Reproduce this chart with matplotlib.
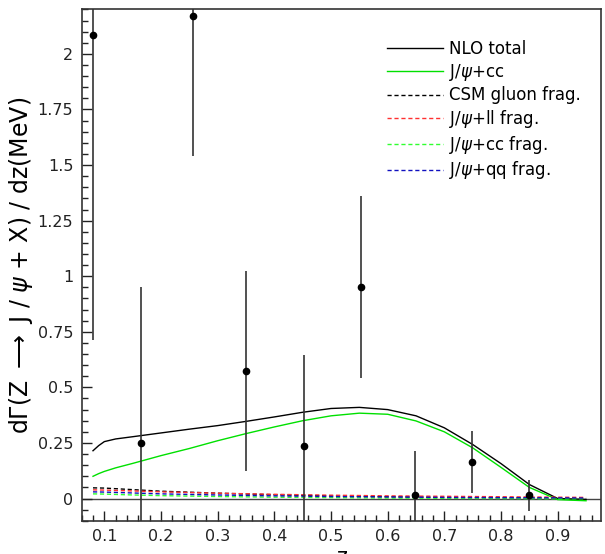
import matplotlib
matplotlib.use('Agg')
import matplotlib.pyplot as plt
from matplotlib.ticker import MultipleLocator, FixedLocator

# measured points
z_data = [0.08, 0.165, 0.257, 0.35, 0.452, 0.553, 0.648, 0.748, 0.849]
y_data = [2.085, 0.252, 2.172, 0.575, 0.236, 0.95, 0.015, 0.165, 0.015]
y_err = [1.37, 0.70, 0.63, 0.45, 0.41, 0.41, 0.20, 0.14, 0.07]

# NLO curves
z_curve = [0.08, 0.09, 0.10, 0.12, 0.15, 0.20, 0.25, 0.30, 0.35, 0.40, 0.45,
           0.50, 0.55, 0.60, 0.65, 0.70, 0.75, 0.80, 0.85, 0.90, 0.95]
nlo_total = [0.215, 0.238, 0.256, 0.268, 0.278, 0.295, 0.312, 0.328, 0.347,
             0.367, 0.388, 0.405, 0.410, 0.400, 0.372, 0.318, 0.243, 0.157,
             0.063, 0.000, -0.004]
jpsi_cc = [0.100, 0.112, 0.122, 0.138, 0.158, 0.193, 0.225, 0.260, 0.292,
           0.322, 0.350, 0.372, 0.384, 0.379, 0.349, 0.300, 0.228, 0.140,
           0.050, -0.005, -0.010]

# fragmentation contributions
z_frag = [0.08, 0.10, 0.15, 0.20, 0.30, 0.40, 0.50, 0.60, 0.70, 0.80, 0.90,
          0.95]
csm_gluon = [0.048, 0.047, 0.040, 0.033, 0.024, 0.017, 0.012, 0.008, 0.005,
             0.003, 0.001, 0.000]
ll_frag = [0.039, 0.038, 0.034, 0.030, 0.024, 0.019, 0.015, 0.012, 0.010,
           0.008, 0.006, 0.005]
cc_frag = [0.021, 0.020, 0.016, 0.013, 0.009, 0.006, 0.004, 0.002, 0.001,
           0.000, -0.001, -0.001]
qq_frag = [0.030, 0.029, 0.025, 0.021, 0.016, 0.012, 0.009, 0.007, 0.005,
           0.004, 0.003, 0.002]

yticks = [0, 0.25, 0.5, 0.75, 1, 1.25, 1.5, 1.75, 2]
ytick_labels = ['0', '0.25', '0.5', '0.75', '1', '1.25', '1.5', '1.75', '2']
xticks = [0.1, 0.2, 0.3, 0.4, 0.5, 0.6, 0.7, 0.8, 0.9]

plt.rcParams['font.family'] = ['DejaVu Sans']
plt.rcParams['mathtext.fontset'] = 'dejavusans'

fig = plt.figure(figsize=(6.05, 5.54), dpi=100)
ax = fig.add_axes([0.135, 0.060, 0.858, 0.923])

dash = (0, (3, 2))
ax.plot(z_curve, nlo_total, color='black', lw=1.0, label='NLO total')
ax.plot(z_curve, jpsi_cc, color='#00e000', lw=1.0, label=r'J/$\psi$+cc')
ax.plot(z_frag, csm_gluon, color='black', lw=1.0, ls=dash,
        label='CSM gluon frag.')
ax.plot(z_frag, ll_frag, color='#ff3030', lw=1.0, ls=dash,
        label=r'J/$\psi$+ll frag.')
ax.plot(z_frag, cc_frag, color='#30ff30', lw=1.0, ls=dash,
        label=r'J/$\psi$+cc frag.')
ax.plot(z_frag, qq_frag, color='#1010c0', lw=1.0, ls=dash,
        label=r'J/$\psi$+qq frag.')

ax.axhline(0, color='#444444', lw=1.0, zorder=1)
ax.errorbar(z_data, y_data, yerr=y_err, fmt='o', color='black', ms=4.5,
            ecolor='#333333', elinewidth=1.2, capsize=0, zorder=5)

ax.set_xlim(0.06, 0.976)
ax.set_ylim(-0.1, 2.2)

ax.xaxis.set_major_locator(FixedLocator(xticks))
ax.xaxis.set_minor_locator(MultipleLocator(0.02))
ax.set_yticks(yticks)
ax.set_yticklabels(ytick_labels)
ax.yaxis.set_minor_locator(MultipleLocator(0.05))
ax.tick_params(which='both', direction='in', top=False, right=False,
               labelsize=11.5, colors='#222222', width=1.0)
ax.tick_params(which='major', length=7, pad=6)
ax.tick_params(which='minor', length=4)
for side in ax.spines.keys():
    ax.spines[side].set_linewidth(1.2)
    ax.spines[side].set_color('#333333')

ax.set_ylabel(r'd$\Gamma$(Z $\longrightarrow$ J / $\psi$ + X) / dz(MeV)',
              fontsize=17, labelpad=2)
ax.set_xlabel('z', fontsize=15, labelpad=2)

ax.legend(loc='upper left', bbox_to_anchor=(0.588, 0.94), frameon=False,
          fontsize=12, handlelength=3.35, handletextpad=0.4,
          labelspacing=0.22, borderpad=0, borderaxespad=0)

fig.savefig('out.png', dpi=100)
